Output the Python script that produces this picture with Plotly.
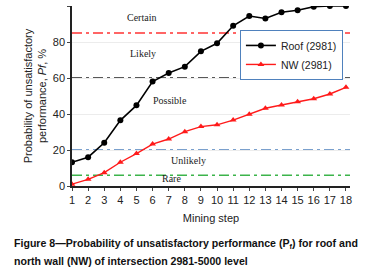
import plotly.graph_objects as go

steps = list(range(1, 19))
roof = [13.2, 16, 24, 36.5, 44.8, 58, 62.8, 66.3, 74.8, 79.3, 89, 94.4, 93.1, 96.5, 97.6, 99.6, 100, 100]
nw = [1, 3.7, 7.4, 13.2, 18, 23.3, 26.1, 30.2, 33, 34, 36.6, 39.8, 43.2, 45, 46.8, 48.5, 51.1, 54.8]

thresholds = [85, 60, 20, 6]
threshold_colors = ["#ff3333", "#222222", "#4f81bd", "#3cb44b"]

zone_labels = ["Certain", "Likely", "Possible", "Unlikely", "Rare"]
zone_label_x = [5.3, 5.4, 7.1, 8.2, 7.15]
zone_label_y = [93.5, 73.5, 47.5, 14, 4.3]

caption_lines = [
    "<b>Figure 8\u2014Probability of unsatisfactory performance (P<sub>f</sub>) for roof and</b>",
    "<b>north wall (NW) of intersection 2981-5000 level</b>",
]

fig = go.Figure()

for t, c in zip(thresholds, threshold_colors):
    fig.add_shape(type="line", xref="paper", x0=0, x1=1, yref="y", y0=t, y1=t,
                  line=dict(color=c, width=1.5, dash="10px,4px,3px,4px"), layer="below")

fig.add_trace(go.Scatter(x=steps, y=roof, mode="lines+markers", name="Roof (2981)",
                         line=dict(color="black", width=1.6),
                         marker=dict(symbol="circle", size=6, color="black")))
fig.add_trace(go.Scatter(x=steps, y=nw, mode="lines+markers", name="NW (2981)",
                         line=dict(color="#ff1a1a", width=1.4),
                         marker=dict(symbol="triangle-up", size=6, color="#ff1a1a")))

for lab, lx, ly in zip(zone_labels, zone_label_x, zone_label_y):
    fig.add_annotation(x=lx, y=ly, text=lab, showarrow=False,
                       font=dict(family="Liberation Serif, Times New Roman, serif", size=10, color="#222"))

# caption lines: centres at ~244 px and ~261 px from the top
for i, line in enumerate(caption_lines):
    fig.add_annotation(xref="paper", yref="paper", x=-0.216, y=-(58 + 17 * i) / 180.0,
                       xanchor="left", yanchor="middle", align="left", showarrow=False,
                       text=line, font=dict(family="Liberation Sans, Arial", size=10.6, color="#111"))

fig.update_layout(
    width=366, height=270,
    margin=dict(l=72, r=16, t=6, b=84),
    paper_bgcolor="white", plot_bgcolor="white",
    font=dict(family="Liberation Sans, Arial, sans-serif", size=11, color="#222"),
    showlegend=True,
    legend=dict(x=0.604, y=0.867, xanchor="left", yanchor="top",
                bgcolor="white", bordercolor="#4f81bd", borderwidth=1,
                font=dict(size=10.5, color="#222"), tracegroupgap=0, itemwidth=30),
    xaxis=dict(range=[1, 18.25], tickmode="array", tickvals=steps, ticks="outside", ticklen=3,
               showline=True, linecolor="#222", linewidth=1.5, showgrid=False, zeroline=False,
               automargin=False,
               title=dict(text="Mining step", font=dict(size=11), standoff=9),
               tickfont=dict(size=11)),
    yaxis=dict(range=[0, 100], tickvals=[0, 20, 40, 60, 80, 100], ticks="outside", ticklen=3,
               showline=True, linecolor="#222", linewidth=1.5, showgrid=True, gridcolor="#ececec",
               zeroline=False, automargin=False,
               title=dict(text="Probability of unsatisfactory<br>performance, <i>Pf</i>, %", font=dict(size=11), standoff=4),
               tickfont=dict(size=11)),
)

fig.write_html("out.html", config={"displayModeBar": False},
               post_script="document.body.style.margin='0';")
